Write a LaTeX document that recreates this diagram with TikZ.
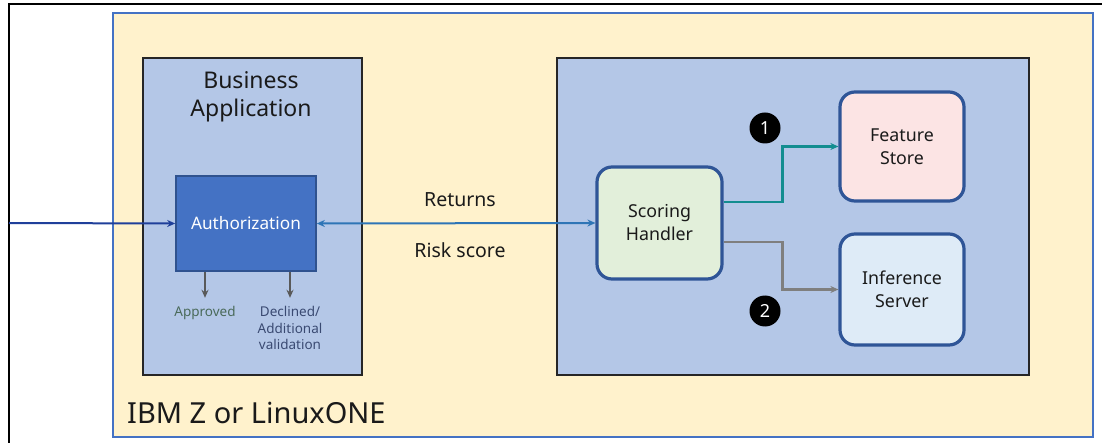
\documentclass[tikz,border=0pt]{standalone}
\usepackage{fontspec}
\setmainfont{Noto Sans}
\usetikzlibrary{arrows.meta,calc}

\definecolor{platform}{HTML}{FFF2CC}
\definecolor{platformedge}{HTML}{4472C4}
\definecolor{panel}{HTML}{B4C7E7}
\definecolor{paneledge}{HTML}{262626}
\definecolor{authfill}{HTML}{4472C4}
\definecolor{authedge}{HTML}{2F528F}
\definecolor{roundedge}{HTML}{2F5597}
\definecolor{scorefill}{HTML}{E2EFDA}
\definecolor{featfill}{HTML}{FCE4E4}
\definecolor{inffill}{HTML}{DEEBF7}
\definecolor{tealline}{HTML}{138D90}
\definecolor{grayline}{HTML}{7F7F7F}
\definecolor{downline}{HTML}{595959}
\definecolor{inline}{HTML}{1F3F9A}
\definecolor{retline}{HTML}{2E75B6}
\definecolor{okgreen}{HTML}{4A6A5A}
\definecolor{declblue}{HTML}{3A4A72}
\definecolor{textdark}{HTML}{1A1A1A}

\tikzset{
  panelbox/.style={draw=paneledge, line width=2pt, fill=panel, inner sep=0pt},
  authbox/.style={draw=authedge, line width=1.6pt, fill=authfill, inner sep=0pt,
    text=white, font=\fontsize{17.2}{19}\selectfont},
  svcbox/.style={draw=roundedge, line width=3.2pt, rounded corners=15pt, inner sep=0pt,
    minimum width=124pt, align=center, text=textdark,
    font=\fontsize{17.8}{23}\selectfont},
  badge/.style={circle, fill=black, text=white, inner sep=0pt, minimum size=31pt,
    font=\fontsize{18}{18}\selectfont\bfseries},
  tip/.style={-{Stealth[length=8pt,width=7pt]}},
  lbl/.style={text=textdark, font=\fontsize{19.5}{22}\selectfont},
  smalllbl/.style={align=center, font=\fontsize{13.5}{16.5}\selectfont}
}

\begin{document}
\begin{tikzpicture}[x=1pt,y=-1pt]
  \useasboundingbox (0,0) rectangle (1102,443);
  \fill[white] (0,0) rectangle (1102,443);

  % page frame (top and left edges)
  \draw[black, line width=2pt] (9,443) -- (9,4) -- (1102,4);

  % platform container
  \node (platform) [draw=platformedge, line width=2.5pt, fill=platform, inner sep=0pt,
    minimum width=980pt, minimum height=424pt] at (603,225) {};
  \node (platlabel) [anchor=base west, text=textdark, inner sep=0pt,
    font=\fontsize{29}{32}\selectfont] at (127,423) {IBM Z or LinuxONE};

  % business application panel
  \node (biz) [panelbox, minimum width=219pt, minimum height=317pt] at (252.5,216.5) {};
  \node (biztitle) [align=center, text=textdark, font=\fontsize{23}{28}\selectfont]
    at (251,97) {Business\\Application};
  \node (auth) [authbox, minimum width=140pt, minimum height=95pt] at (246,223.5) {Authorization};

  % scoring panel
  \node (scoring) [panelbox, minimum width=472pt, minimum height=317pt] at (793,216.5) {};
  \node (score) [svcbox, fill=scorefill, minimum width=125pt, minimum height=112pt]
    at (659.5,223) {Scoring\\Handler};
  \node (feat) [svcbox, fill=featfill, minimum height=109pt] at (902,146.5) {Feature\\Store};
  \node (inf) [svcbox, fill=inffill, minimum height=111pt] at (902,289.5) {Inference\\Server};

  \node (b1) [badge] at (765,128) {1};
  \node (b2) [badge] at (765,311) {2};

  % outcome labels
  \node (appr) [smalllbl, text=okgreen, anchor=north] at (205,303) {Approved};
  \node (decl) [smalllbl, text=declblue, anchor=north] at (290,303) {Declined/\\Additional\\validation};

  % request / response labels
  \node (ret) [lbl] at (460,200) {Returns};
  \node (risk) [lbl] at (460,250) {Risk score};

  % connectors
  \coordinate (src) at (9,223);
  \draw[inline, line width=2pt, tip] (src) -- (auth.west);
  \draw[retline, line width=2pt, {Stealth[length=8pt,width=7pt]}-{Stealth[length=8pt,width=7pt]}]
    (auth.east) -- (score.west);
  \draw[downline, line width=2pt, tip] (auth.south -| appr.north) -- ++(0,26);
  \draw[downline, line width=2pt, tip] (auth.south -| decl.north) -- ++(0,26);
  \draw[tealline, line width=2.3pt, tip] ($(score.east)+(0,-21)$) -- ++(59,0) |- (feat.west);
  \draw[grayline, line width=2.3pt, tip] ($(score.east)+(0,19)$) -- ++(59,0) |- (inf.west);
\end{tikzpicture}
\end{document}
